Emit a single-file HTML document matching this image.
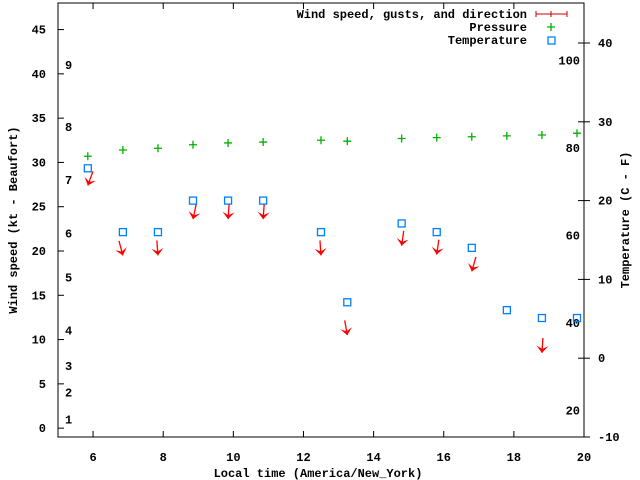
<!DOCTYPE html>
<html><head><meta charset="utf-8"><style>
body{margin:0;background:#fff;}
svg{display:block;font-family:"Liberation Mono",monospace;font-weight:bold;font-size:12px;}
</style></head><body>
<svg id="c" width="640" height="480" viewBox="0 0 640 480"></svg>
<script>
const hours=[5.85,6.85,7.85,8.85,9.85,10.85,12.5,13.25,14.8,15.8,16.8,17.8,18.8,19.8];
const tempC=[24.1,16.0,16.0,20.0,20.0,20.0,16.0,7.1,17.1,16.0,14.0,6.1,5.1,5.1];
const pressureScaled=[30.7,31.4,31.6,32.0,32.2,32.3,32.5,32.4,32.7,32.8,32.9,33.0,33.1,33.3];
const windHours=[5.85,6.85,7.85,8.85,9.85,10.85,12.5,13.25,14.8,15.8,16.8,18.8];
const windKt=[27.4,19.5,19.5,23.6,23.6,23.6,19.5,10.5,20.6,19.6,17.7,8.5];
const windDir=[20,345,356,12,4,4,356,350,8,8,16,4];
const xTicks=[6,8,10,12,14,16,18,20];
const yTicks=[0,5,10,15,20,25,30,35,40,45];
const cTicks=[-10,0,10,20,30,40];
const fLabels=[20,40,60,80,100];
const bftKt=[1,4,7,11,17,22,28,34,41];
const bftLabels=[1,2,3,4,5,6,7,8,9];
const L=58,R=584,T=3,B=437;
const X=h=>L+(h-5)/(20-5)*(R-L);
const Y=v=>B-(v+1)/(48+1)*(B-T);
const YC=c=>B-(c+10)/(40+10)*(B-T)*1; // -10..40 maps 437..43
const YCc=c=>437-(c+10)*7.88;
const svg=document.getElementById('c');
const NS='http://www.w3.org/2000/svg';
function el(t,a,p){const e=document.createElementNS(NS,t);for(const k in a)e.setAttribute(k,a[k]);(p||svg).appendChild(e);return e;}
function txt(x,y,s,anchor,extra){const e=el('text',Object.assign({x:x,y:y,'text-anchor':anchor||'middle'},extra||{}));e.textContent=s;return e;}
const frame=el('rect',{x:L,y:T,width:R-L,height:B-T,fill:'none',stroke:'#000','stroke-width':1});


xTicks.forEach(t=>{const x=X(t);
  el('line',{x1:x,y1:B,x2:x,y2:B-6,stroke:'#000'});el('line',{x1:x,y1:T,x2:x,y2:T+6,stroke:'#000'});
  const l=txt(x,461,String(t));
  
  });
yTicks.forEach(t=>{const y=Y(t);
  el('line',{x1:L,y1:y,x2:L+6,y2:y,stroke:'#000'});
  const l=txt(46,y+4,String(t),'end');
  
  });
cTicks.forEach(t=>{const y=YCc(t);
  el('line',{x1:R-6,y1:y,x2:R+6,y2:y,stroke:'#000'});
  const l=txt(598,y+4,String(t),'start');
  
  });
fLabels.forEach(f=>{const y=YCc((f-32)*5/9);
  const l=txt(580,y+4,String(f),'end');
  
  });
bftKt.forEach((k,i)=>{const l=txt(65,Y(k)+4,String(bftLabels[i]),'start');
  
  });
let a=txt(318,477,'Local time (America/New_York)');

a=txt(0,0,'Wind speed (kt - Beaufort)','middle',{transform:'translate(17,220) rotate(-90)'});

a=txt(0,0,'Temperature (C - F)','middle',{transform:'translate(629,220) rotate(-90)'});

// pressure
hours.forEach((h,i)=>{const x=X(h),y=Y(pressureScaled[i]);
  const g=el('path',{d:`M${x-4},${y}H${x+4}M${x},${y-4}V${y+4}`,stroke:'#00b000','stroke-width':1.3,fill:'none'});
  });
// temperature
hours.forEach((h,i)=>{const x=X(h),y=YCc(tempC[i]);
  const r=el('rect',{x:x-3.5,y:y-3.5,width:7,height:7,fill:'none',stroke:'#0080ff','stroke-width':1.3});
  });
// wind arrows
windHours.forEach((h,i)=>{const x=X(h),y=Y(windKt[i]);const rad=windDir[i]*Math.PI/180;
  const ux=Math.sin(rad),uy=-Math.cos(rad);const len=15;
  const g=el('g',{});
  
  el('line',{x1:x+ux*len,y1:y+uy*len,x2:x,y2:y,stroke:'#f00','stroke-width':1.3},g);
  const px=-uy,py=ux;
  el('polygon',{points:`${x},${y} ${x+ux*7+px*6},${y+uy*7+py*6} ${x+ux*4},${y+uy*4} ${x+ux*7-px*6},${y+uy*7-py*6}`,fill:'#f00'},g);});
// legend
a=txt(527,18,'Wind speed, gusts, and direction','end');
el('path',{d:'M536,14H567M536,11V17M567,11V17M551,11V17',stroke:'#c00',fill:'none'});
a=txt(527,31,'Pressure','end');
el('path',{d:'M547,27H555M551,23V31',stroke:'#00b000','stroke-width':1.3});
a=txt(527,44,'Temperature','end');
el('rect',{x:548,y:37,width:7,height:7,fill:'none',stroke:'#0080ff','stroke-width':1.3});
</script>
</body></html>
